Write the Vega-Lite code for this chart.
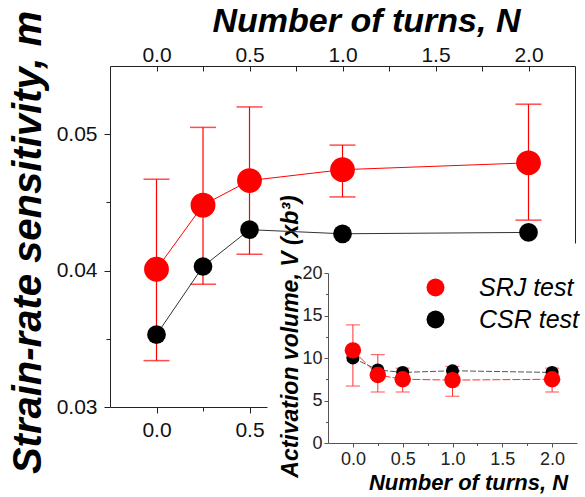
{
  "$schema": "https://vega.github.io/schema/vega-lite/v6.json",
  "width": 465,
  "height": 341,
  "autosize": "none",
  "padding": {"left": 110, "top": 66, "right": 10, "bottom": 90},
  "background": "white",
  "config": {
    "view": {"stroke": null},
    "font": "Liberation Sans",
    "axis": {
      "zindex": 1,
      "grid": false,
      "labelFont": "Liberation Sans",
      "titleFont": "Liberation Sans",
      "domainColor": "#222222",
      "tickColor": "#222222",
      "labelColor": "#111111",
      "titleColor": "#000000",
      "labelOverlap": false,
      "labelFlush": false
    }
  },
  "datasets": {
    "main": [
      {"N": 0.0, "series": "SRJ test", "m": 0.0401, "lo": 0.0334, "hi": 0.0467},
      {"N": 0.25, "series": "SRJ test", "m": 0.0448, "lo": 0.0390, "hi": 0.0505},
      {"N": 0.5, "series": "SRJ test", "m": 0.0466, "lo": 0.0412, "hi": 0.0520},
      {"N": 1.0, "series": "SRJ test", "m": 0.0474, "lo": 0.0454, "hi": 0.0492},
      {"N": 2.0, "series": "SRJ test", "m": 0.0479, "lo": 0.0437, "hi": 0.0522},
      {"N": 0.0, "series": "CSR test", "m": 0.0353},
      {"N": 0.25, "series": "CSR test", "m": 0.0403},
      {"N": 0.5, "series": "CSR test", "m": 0.0430},
      {"N": 1.0, "series": "CSR test", "m": 0.0427},
      {"N": 2.0, "series": "CSR test", "m": 0.0428}
    ],
    "inset": [
      {"N": 0.0, "series": "SRJ test", "V": 10.9, "lo": 6.7, "hi": 13.9},
      {"N": 0.25, "series": "SRJ test", "V": 8.0, "lo": 6.0, "hi": 10.4},
      {"N": 0.5, "series": "SRJ test", "V": 7.5, "lo": 6.0, "hi": 8.8},
      {"N": 1.0, "series": "SRJ test", "V": 7.4, "lo": 5.5, "hi": 9.0},
      {"N": 2.0, "series": "SRJ test", "V": 7.5, "lo": 6.0, "hi": 8.8},
      {"N": 0.0, "series": "CSR test", "V": 10.0},
      {"N": 0.25, "series": "CSR test", "V": 8.6},
      {"N": 0.5, "series": "CSR test", "V": 8.3},
      {"N": 1.0, "series": "CSR test", "V": 8.5},
      {"N": 2.0, "series": "CSR test", "V": 8.3}
    ]
  },
  "resolve": {
    "scale": {"x": "independent", "y": "independent"},
    "axis": {"x": "independent", "y": "independent"}
  },
  "layer": [
    {
      "data": {"name": "main"},
      "encoding": {
        "x": {
          "field": "N", "type": "quantitative",
          "scale": {"domain": [-0.25, 2.25], "nice": false, "zero": false},
          "axis": {
            "orient": "top",
            "values": [0, 0.25, 0.5, 0.75, 1, 1.25, 1.5, 1.75, 2],
            "labelExpr": "datum.value % 0.5 === 0 ? format(datum.value, '.1f') : ''",
            "tickSize": -5,
            "labelPadding": 6,
            "labelFontSize": 21,
            "title": "Number of turns, N",
            "titleFontSize": 34,
            "titleFontWeight": "bold",
            "titleFontStyle": "italic",
            "titleX": 256,
            "titleY": -35,
            "titleAlign": "center",
            "titleBaseline": "alphabetic"
          }
        }
      },
      "layer": [
        {
          "transform": [{"filter": "datum.series === 'SRJ test'"}],
          "mark": {
            "type": "errorbar",
            "rule": {"color": "#ff0000", "strokeWidth": 1.2},
            "ticks": {"color": "#ff0000", "size": 26, "thickness": 1.5}
          },
          "encoding": {
            "y": {
              "field": "lo", "type": "quantitative",
              "scale": {"domain": [0.03, 0.055], "nice": false, "zero": false},
              "axis": {
                "orient": "left",
                "values": [0.03, 0.035, 0.04, 0.045, 0.05],
                "labelExpr": "abs(datum.value * 100 - round(datum.value * 100)) < 0.001 ? format(datum.value, '.2f') : ''",
                "tickSize": {"condition": {"test": "abs(datum.value * 100 - round(datum.value * 100)) < 0.001", "value": 6}, "value": 4},
                "labelPadding": 7,
                "labelFontSize": 21,
                "title": "Strain-rate sensitivity, m",
                "titleFontSize": 40,
                "titleFontWeight": "bold",
                "titleFontStyle": "italic",
                "titleAngle": -90,
                "titleX": -70,
                "titleY": 176,
                "titleAlign": "center",
                "titleBaseline": "alphabetic"
              }
            },
            "y2": {"field": "hi"}
          }
        },
        {
          "transform": [{"filter": "datum.series === 'CSR test'"}],
          "mark": {"type": "line", "color": "#333333", "strokeWidth": 1},
          "encoding": {
            "y": {"field": "m", "type": "quantitative"}
          }
        },
        {
          "transform": [{"filter": "datum.series === 'CSR test'"}],
          "mark": {"type": "point", "filled": true, "opacity": 1, "size": 350},
          "encoding": {
            "y": {"field": "m", "type": "quantitative"},
            "color": {
              "field": "series", "type": "nominal",
              "scale": {"domain": ["SRJ test", "CSR test"], "range": ["#ff0000", "#000000"]},
              "legend": {
                "orient": "none",
                "legendX": 313,
                "legendY": 209,
                "title": null,
                "padding": 0,
                "rowPadding": 6,
                "symbolSize": 324,
                "labelFont": "Liberation Sans",
                "labelFontSize": 25,
                "labelFontStyle": "italic",
                "labelColor": "#000000",
                "labelOffset": 31,
                "encode": {
                  "symbols": {
                    "shape": {"value": "M-3.3,-0.055H3.3V0.055H-3.3ZM1,0A1,1,0,1,1,-1,0A1,1,0,1,1,1,0Z"},
                    "opacity": {"value": 1}
                  }
                }
              }
            }
          }
        },
        {
          "transform": [{"filter": "datum.series === 'SRJ test'"}],
          "mark": {"type": "line", "color": "#ff0000", "strokeWidth": 1},
          "encoding": {
            "y": {"field": "m", "type": "quantitative"}
          }
        },
        {
          "transform": [{"filter": "datum.series === 'SRJ test'"}],
          "mark": {"type": "point", "filled": true, "opacity": 1, "size": 616},
          "encoding": {
            "y": {"field": "m", "type": "quantitative"},
            "color": {"field": "series", "type": "nominal"}
          }
        }
      ]
    },
    {
      "data": {"name": "main"},
      "mark": {"type": "point", "opacity": 0},
      "encoding": {
        "x": {
          "field": "N", "type": "quantitative",
          "scale": {"domain": [-0.25, 0.594], "range": [0, 157], "nice": false, "zero": false},
          "axis": {
            "orient": "bottom",
            "values": [0, 0.25, 0.5],
            "labelExpr": "datum.value % 0.5 === 0 ? format(datum.value, '.1f') : ''",
            "tickSize": {"condition": {"test": "datum.value % 0.5 === 0", "value": 6}, "value": 4},
            "labelPadding": 6,
            "labelFontSize": 21,
            "title": null
          }
        },
        "y": {
          "field": "m", "type": "quantitative",
          "scale": {"domain": [0, 1], "range": [177, 0], "nice": false, "zero": false},
          "axis": {"orient": "right", "ticks": false, "labels": false, "title": null}
        }
      }
    },
    {
      "data": {"name": "inset"},
      "encoding": {
        "x": {
          "field": "N", "type": "quantitative",
          "scale": {"domain": [-0.25, 2.25], "range": [218, 467], "nice": false, "zero": false},
          "axis": {
            "orient": "bottom",
            "offset": 36,
            "values": [0, 0.25, 0.5, 0.75, 1, 1.25, 1.5, 1.75, 2],
            "labelExpr": "datum.value % 0.5 === 0 ? format(datum.value, '.1f') : ''",
            "tickSize": {"condition": {"test": "datum.value % 0.5 === 0", "value": 4}, "value": 2.5},
            "labelPadding": 3,
            "labelFontSize": 18,
            "domainColor": "#555555",
            "tickColor": "#555555",
            "labelColor": "#222222",
            "title": "Number of turns, N",
            "titleFontSize": 22,
            "titleFontWeight": "bold",
            "titleFontStyle": "italic",
            "titleX": 358,
            "titleY": 46,
            "titleAlign": "center",
            "titleBaseline": "alphabetic"
          }
        },
        "y": {
          "field": "V", "type": "quantitative",
          "scale": {"domain": [0, 20], "range": [377, 207], "nice": false, "zero": false},
          "axis": {
            "orient": "left",
            "offset": -218,
            "values": [0, 2.5, 5, 7.5, 10, 12.5, 15, 17.5, 20],
            "labelExpr": "datum.value % 5 === 0 ? format(datum.value, 'd') : ''",
            "tickSize": {"condition": {"test": "datum.value % 5 === 0", "value": 4}, "value": 2.5},
            "labelPadding": 2,
            "labelFontSize": 18,
            "domainColor": "#555555",
            "tickColor": "#555555",
            "labelColor": "#222222",
            "title": "Activation volume, V (xb³)",
            "titleFontSize": 23,
            "titleFontWeight": "bold",
            "titleFontStyle": "italic",
            "titleAngle": -90,
            "titleX": -31,
            "titleY": 270,
            "titleAlign": "center",
            "titleBaseline": "alphabetic"
          }
        }
      },
      "layer": [
        {
          "data": {"values": [{}]},
          "mark": {"type": "rect", "fill": "#ffffff", "opacity": 1},
          "encoding": {
            "x": {"datum": -0.86, "type": "quantitative"},
            "x2": {"datum": 2.6},
            "y": {"datum": -7, "type": "quantitative"},
            "y2": {"datum": 23.5}
          }
        },
        {
          "data": {"values": [{}]},
          "mark": {"type": "rect", "fill": null, "stroke": "#777777", "strokeWidth": 1},
          "encoding": {
            "x": {"datum": -0.25, "type": "quantitative"},
            "x2": {"datum": 2.25},
            "y": {"datum": 0, "type": "quantitative"},
            "y2": {"datum": 20}
          }
        },
        {
          "transform": [{"filter": "datum.series === 'SRJ test'"}],
          "mark": {
            "type": "errorbar",
            "rule": {"color": "#ff3030", "strokeWidth": 1},
            "ticks": {"color": "#ff3030", "size": 14, "thickness": 1.2}
          },
          "encoding": {
            "y": {"field": "lo", "type": "quantitative"},
            "y2": {"field": "hi"}
          }
        },
        {
          "transform": [{"filter": "datum.series === 'CSR test'"}],
          "mark": {"type": "line", "color": "#555555", "strokeWidth": 1, "strokeDash": [6, 2]}
        },
        {
          "transform": [{"filter": "datum.series === 'CSR test'"}],
          "mark": {"type": "point", "filled": true, "opacity": 1, "size": 170},
          "encoding": {
            "color": {"field": "series", "type": "nominal"}
          }
        },
        {
          "transform": [{"filter": "datum.series === 'SRJ test'"}],
          "mark": {"type": "line", "color": "#ff3030", "strokeWidth": 1, "strokeDash": [8, 2]}
        },
        {
          "transform": [{"filter": "datum.series === 'SRJ test'"}],
          "mark": {"type": "point", "filled": true, "opacity": 1, "size": 270},
          "encoding": {
            "color": {"field": "series", "type": "nominal"}
          }
        }
      ]
    }
  ]
}
